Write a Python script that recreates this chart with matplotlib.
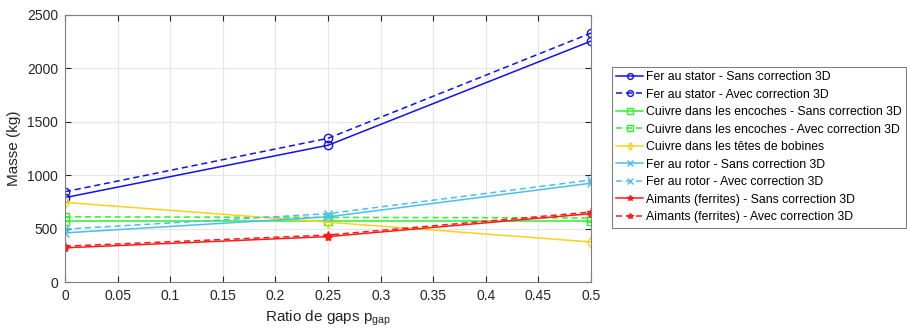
import matplotlib
matplotlib.use('Agg')
import matplotlib.pyplot as plt

plt.rcParams['font.family'] = ['Liberation Sans', 'DejaVu Sans']

# data
p_gap = [0, 0.25, 0.5]

fer_stator_sans = [790, 1280, 2255]
fer_stator_avec = [845, 1345, 2330]
cuivre_enc_sans = [575, 575, 575]
cuivre_enc_avec = [610, 605, 600]
cuivre_tetes = [745, 560, 375]
fer_rotor_sans = [460, 610, 925]
fer_rotor_avec = [495, 640, 955]
aimants_sans = [320, 425, 640]
aimants_avec = [335, 440, 655]

labels = [
    'Fer au stator - Sans correction 3D',
    'Fer au stator - Avec correction 3D',
    'Cuivre dans les encoches - Sans correction 3D',
    'Cuivre dans les encoches - Avec correction 3D',
    'Cuivre dans les têtes de bobines',
    'Fer au rotor - Sans correction 3D',
    'Fer au rotor - Avec correction 3D',
    'Aimants (ferrites) - Sans correction 3D',
    'Aimants (ferrites) - Avec correction 3D',
]

c_blue = '#1010f0'
c_green = '#30f030'
c_yellow = '#ffd11a'
c_lblue = '#4dbeee'
c_red = '#ff1a1a'

series = [
    (fer_stator_sans, c_blue, '-', 'o'),
    (fer_stator_avec, c_blue, '--', 'o'),
    (cuivre_enc_sans, c_green, '-', 's'),
    (cuivre_enc_avec, c_green, '--', 's'),
    (cuivre_tetes, c_yellow, '-', 'd'),
    (fer_rotor_sans, c_lblue, '-', 'x'),
    (fer_rotor_avec, c_lblue, '--', 'x'),
    (aimants_sans, c_red, '-', '*'),
    (aimants_avec, c_red, '--', '*'),
]

fig = plt.figure(figsize=(9.07, 3.31), dpi=100)
ax = fig.add_axes([0.0717, 0.148, 0.58, 0.807])

for (vals, col, ls, mk), lab in zip(series, labels):
    ax.plot(p_gap, vals, color=col, linestyle=ls, marker=mk, markersize=6,
            markerfacecolor='none' if mk in 'osd' else col, linewidth=1.1,
            dashes=(4, 2.5) if ls == '--' else (None, None), label=lab)

ax.set_xlim(0, 0.5)
ax.set_ylim(0, 2500)
ax.set_xticks([0, 0.05, 0.1, 0.15, 0.2, 0.25, 0.3, 0.35, 0.4, 0.45, 0.5])
ax.set_xticklabels(['0', '0.05', '0.1', '0.15', '0.2', '0.25', '0.3', '0.35', '0.4', '0.45', '0.5'])
ax.set_yticks([0, 500, 1000, 1500, 2000, 2500])
ax.grid(True, color='#e6e6e6', linewidth=0.8)
ax.set_axisbelow(True)
ax.tick_params(direction='in', top=True, right=True, labelsize=10, colors='#262626',
               length=4, pad=5)
for s in ax.spines.values():
    s.set_color('#808080')
ax.set_xlabel('Ratio de gaps p$_{\\mathregular{gap}}$', fontsize=11, color='#262626')
ax.set_ylabel('Masse (kg)', fontsize=11, color='#262626')

leg = ax.legend(loc='upper left', bbox_to_anchor=(1.04, 0.805), fontsize=8.8,
                fancybox=False, edgecolor='#808080', framealpha=1,
                borderpad=0.35, labelspacing=0.45, handlelength=2.2,
                handletextpad=0.2, borderaxespad=0, markerscale=0.7)
leg.get_frame().set_linewidth(0.8)

fig.savefig('out.png', dpi=100)
